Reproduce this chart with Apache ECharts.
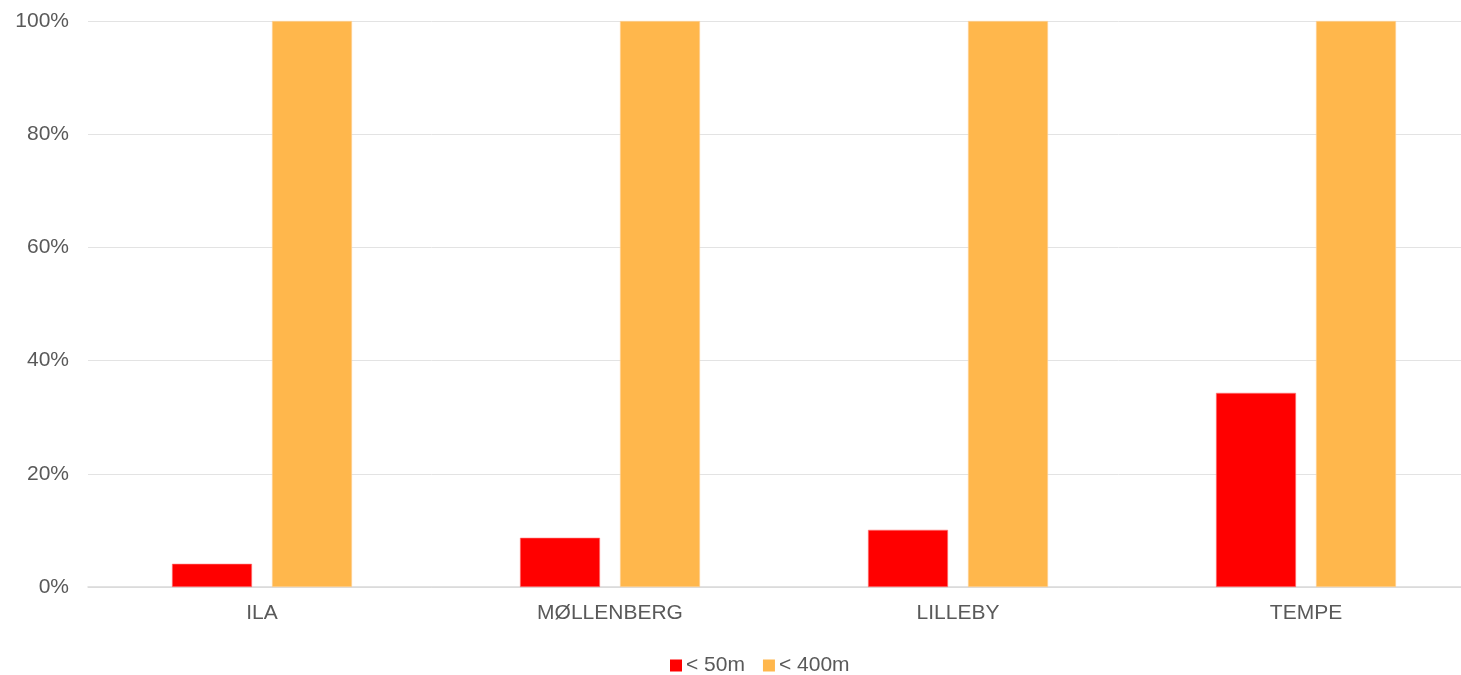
<!DOCTYPE html>
<html>
<head>
<meta charset="utf-8">
<script src="https://cdn.jsdelivr.net/npm/echarts@6/dist/echarts.min.js"></script>
<style>
  html, body { margin: 0; padding: 0; background: #fff; }
  #chart { width: 1461px; height: 675px; }
</style>
</head>
<body>
<div id="chart"></div>
<script>
// Share of addresses within walking distance, per neighbourhood
const categories = ['ILA', 'MØLLENBERG', 'LILLEBY', 'TEMPE'];
const seriesNames = ['< 50m', '< 400m'];
const within50m = [4.1, 8.7, 10.1, 34.3];
const within400m = [100, 100, 100, 100];
const yTicks = { min: 0, max: 100, interval: 20 };

const chart = echarts.init(document.getElementById('chart'));
const labelFont = 'Liberation Sans, Arial, sans-serif';
const textGrey = '#595959';

chart.setOption({
  animation: false,
  backgroundColor: '#ffffff',
  // plot area runs slightly past the right edge of the canvas
  grid: { left: 88, width: 1392, top: 21, bottom: 88, outerBoundsMode: 'none', containLabel: false },
  legend: {
    data: seriesNames,
    left: 665,
    top: 650,
    itemWidth: 12,
    itemHeight: 12,
    itemGap: 18,
    icon: 'rect',
    itemStyle: { borderWidth: 0 },
    textStyle: { fontFamily: labelFont, fontSize: 21, color: textGrey, padding: [0, 0, 0, -1] }
  },
  xAxis: {
    type: 'category',
    data: categories,
    axisTick: { show: false },
    axisLine: { lineStyle: { color: '#d9d9d9', width: 1.5 } },
    axisLabel: { fontFamily: labelFont, fontSize: 21, color: textGrey, margin: 16 }
  },
  yAxis: {
    type: 'value',
    min: yTicks.min,
    max: yTicks.max,
    interval: yTicks.interval,
    axisLine: { show: false },
    axisTick: { show: false },
    splitLine: { lineStyle: { color: '#e3e3e3', width: 1 } },
    axisLabel: {
      fontFamily: labelFont, fontSize: 21, color: textGrey, margin: 19,
      formatter: v => v + '%'
    }
  },
  series: [
    {
      name: seriesNames[0],
      type: 'bar',
      data: within50m,
      barWidth: 80,
      barGap: '25%',
      itemStyle: { color: '#ff0000', borderColor: '#ff7a7a', borderWidth: 0.6 }
    },
    {
      name: seriesNames[1],
      type: 'bar',
      data: within400m,
      barWidth: 80,
      itemStyle: { color: '#ffb74c', borderColor: '#ffd49a', borderWidth: 0.6 }
    }
  ]
});
</script>
</body>
</html>
